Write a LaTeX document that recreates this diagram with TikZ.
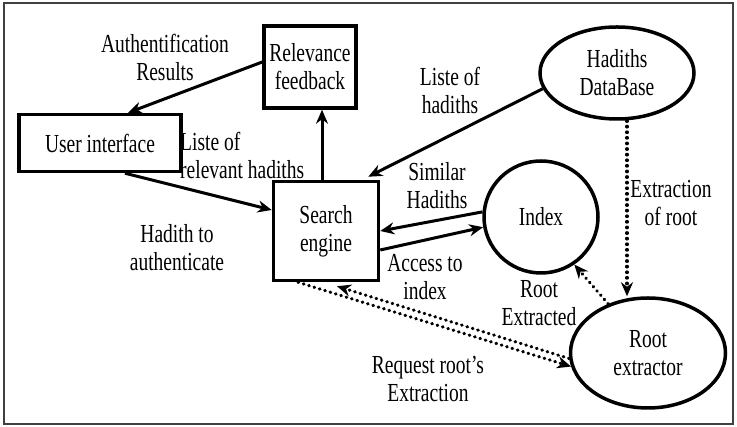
\documentclass[tikz,border=0pt]{standalone}
\usepackage{fontspec}
\setmainfont{Liberation Serif}[FakeStretch=0.75]
\usetikzlibrary{shapes.geometric,arrows.meta}

\begin{document}
\begin{tikzpicture}[x=1pt, y=1pt, font=\fontsize{26}{28}\selectfont,
  every node/.style={align=center, inner sep=0pt},
  box/.style={draw, line width=3.5pt, rectangle},
  blob/.style={draw, line width=3.5pt, ellipse},
  flow/.style={line width=3pt, -{Stealth[length=14pt, width=12pt]}},
  dots/.style={line width=3.2pt, line cap=round, dash pattern=on 0.6pt off 5pt, -{Stealth[length=14pt, width=12pt]}}]
  \useasboundingbox (0,0) rectangle (737,427);
  \draw[line width=1.2pt, black!75] (4,3) rectangle (733,424);
  \node[box, minimum width=92pt, minimum height=82pt] (relfb) at (310,360) {Relevance\\feedback};
  \node[box, minimum width=162pt, minimum height=57pt] (ui) at (100,284) {User interface};
  \node[box, minimum width=105pt, minimum height=99pt] (se) at (326,196) {Search\\engine};
  \node[blob, minimum width=154pt, minimum height=92pt] (db) at (617,354) {Hadiths\\DataBase};
  \node[blob, minimum width=114pt, minimum height=112pt] (idx) at (541,210) {Index};
  \node[blob, minimum width=155pt, minimum height=110pt] (rx) at (648,74) {Root\\extractor};
  \draw[flow] ([yshift=5pt]relfb.west) -- ([xshift=28pt]ui.north);
  \draw[flow] ([xshift=-4pt]se.north) -- ([xshift=-4pt]se.north |- relfb.south);
  \draw[flow] ([xshift=25pt]ui.south) -- ([yshift=21pt]se.west);
  \draw[flow] (db.192) -- ([xshift=-12pt,yshift=3pt]se.north east);
  \draw[flow] (idx.175) -- (se.east);
  \draw[flow] ([yshift=-19pt]se.east) -- (idx.190);
  \draw[dots] ([xshift=10pt]db.south) -- ([xshift=10pt]db.south |- rx.north);
  \draw[dots] (rx.129) -- (idx.305);
  \draw[dots] ([xshift=-28pt]se.south) -- (rx.190);
  \draw[dots] (rx.184) -- ([xshift=11pt,yshift=-4pt]se.south);
  \node (lauth) at (165,370) {Authentification\\Results};
  \node[anchor=west, align=left] (lrel) at (180,272) {Liste of\\relevant hadiths};
  \node (llist) at (450,337) {Liste of\\hadiths};
  \node (lsim) at (437,241) {Similar\\Hadiths};
  \node (lhad) at (177,179) {Hadith to\\authenticate};
  \node (lacc) at (425,150) {Access to\\index};
  \node (lroot) at (539,124) {Root\\Extracted};
  \node (lext) at (671,224) {Extraction\\of root};
  \node (lreq) at (428,48) {Request root’s\\Extraction};
\end{tikzpicture}
\end{document}
